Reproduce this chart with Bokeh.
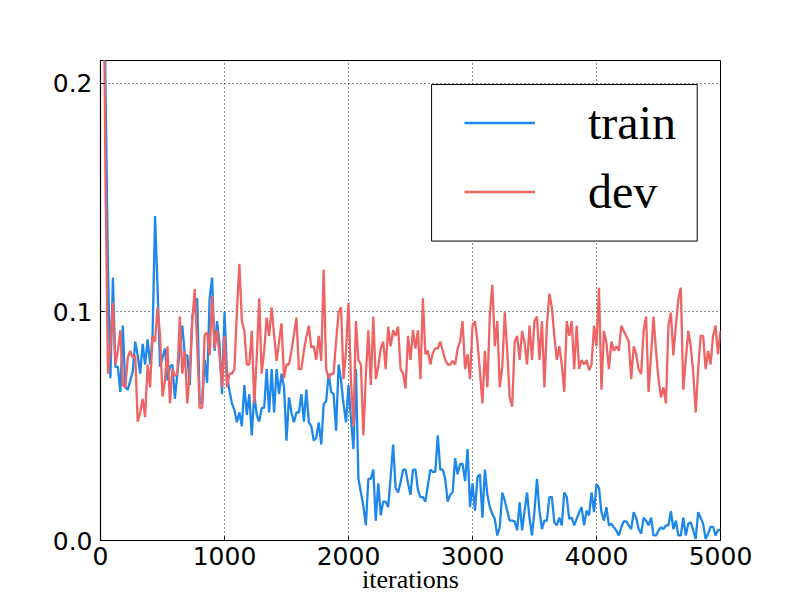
from bokeh.plotting import figure
from bokeh.models import (Legend, LegendItem, BoxAnnotation, Range1d, FixedTicker,
                          PrintfTickFormatter)
from bokeh.embed import file_html
from bokeh.resources import INLINE

# ---- data (one value every 20 iterations) ----
STEP = 20

train = [
    0.40, 0.30, 0.20, 0.12, 0.071, 0.115, 0.076, 0.076, 0.065, 0.094,
    0.067, 0.066, 0.070, 0.074, 0.087, 0.081, 0.073, 0.086, 0.077, 0.088,
    0.077, 0.090, 0.142, 0.111, 0.076, 0.080, 0.084, 0.070, 0.076, 0.077,
    0.062, 0.073, 0.084, 0.094, 0.081, 0.081, 0.068, 0.098, 0.102, 0.106,
    0.060, 0.060, 0.079, 0.069, 0.106, 0.115, 0.083, 0.096, 0.086, 0.064,
    0.100, 0.073, 0.0655, 0.060, 0.057, 0.0517, 0.056, 0.050, 0.068, 0.055,
    0.064, 0.046, 0.064, 0.055, 0.052, 0.058, 0.058, 0.075, 0.056, 0.075,
    0.056, 0.075, 0.064, 0.073, 0.067, 0.0437, 0.0626, 0.056, 0.0517, 0.056,
    0.056, 0.064, 0.052, 0.066, 0.0517, 0.050, 0.0437, 0.045, 0.0517, 0.042,
    0.0597, 0.061, 0.073, 0.065, 0.064, 0.048, 0.077, 0.070, 0.0597, 0.0517,
    0.068, 0.053, 0.040, 0.075, 0.027, 0.021, 0.015, 0.0066, 0.027, 0.027,
    0.031, 0.0087, 0.025, 0.011, 0.017, 0.017, 0.0146, 0.028, 0.042, 0.023,
    0.021, 0.0255, 0.031, 0.031, 0.025, 0.020, 0.031, 0.031, 0.022, 0.019,
    0.019, 0.017, 0.024, 0.031, 0.030, 0.030, 0.046, 0.031, 0.031, 0.027,
    0.017, 0.020, 0.021, 0.036, 0.029, 0.0335, 0.0335, 0.026, 0.040, 0.0146,
    0.025, 0.013, 0.0277, 0.029, 0.010, 0.031, 0.020, 0.0146, 0.0116, 0.0095,
    0.0022, 0.0058, 0.021, 0.0175, 0.013, 0.0087, 0.0087, 0.0084, 0.0044, 0.0167,
    0.0044, 0.013, 0.021, 0.0095, 0.0022, 0.013, 0.027, 0.013, 0.005, 0.0087,
    0.0087, 0.019, 0.019, 0.008, 0.0066, 0.010, 0.0066, 0.021, 0.019, 0.0095,
    0.010, 0.0066, 0.0095, 0.0124, 0.0146, 0.0066, 0.013, 0.011, 0.021, 0.0124,
    0.0247, 0.023, 0.0124, 0.0087, 0.0146, 0.0066, 0.0073, 0.0058, 0.0044, 0.0022,
    0.0058, 0.0084, 0.0084, 0.0066, 0.005, 0.0124, 0.010, 0.005, 0.003, 0.010,
    0.0087, 0.0066, 0.010, 0.0022, 0.0022, 0.0044, 0.0058, 0.005, 0.0066, 0.0066,
    0.0128, 0.005, 0.0087, 0.0022, 0.0022, 0.010, 0.0022, 0.0073, 0.008, 0.0044,
    0.0007, 0.0124, 0.010, 0.0073, 0.0007, 0.003, 0.006, 0.006, 0.0022, 0.0046,
    0.0046,
]

dev = [
    0.40, 0.28, 0.16, 0.073, 0.084, 0.104, 0.077, 0.083, 0.092, 0.068,
    0.067, 0.080, 0.083, 0.080, 0.081, 0.052, 0.056, 0.062, 0.054, 0.077,
    0.067, 0.0895, 0.087, 0.102, 0.090, 0.063, 0.070, 0.085, 0.060, 0.075,
    0.072, 0.073, 0.098, 0.073, 0.083, 0.060, 0.074, 0.096, 0.110, 0.085,
    0.058, 0.058, 0.090, 0.091, 0.081, 0.107, 0.084, 0.092, 0.081, 0.067,
    0.0895, 0.067, 0.073, 0.073, 0.075, 0.100, 0.121, 0.096, 0.0917, 0.077,
    0.077, 0.0917, 0.060, 0.080, 0.106, 0.073, 0.083, 0.0975, 0.0895, 0.102,
    0.090, 0.0786, 0.087, 0.095, 0.071, 0.077, 0.077, 0.083, 0.090, 0.0975,
    0.075, 0.075, 0.083, 0.089, 0.094, 0.0844, 0.085, 0.079, 0.0895, 0.0786,
    0.1186, 0.075, 0.071, 0.073, 0.073, 0.087, 0.0997, 0.102, 0.0706, 0.083,
    0.104, 0.070, 0.050, 0.096, 0.079, 0.077, 0.046, 0.072, 0.092, 0.068,
    0.098, 0.0706, 0.076, 0.084, 0.087, 0.075, 0.0936, 0.085, 0.092, 0.0895,
    0.0936, 0.075, 0.073, 0.0665, 0.0895, 0.079, 0.092, 0.084, 0.092, 0.0706,
    0.106, 0.0815, 0.083, 0.077, 0.082, 0.084, 0.084, 0.087, 0.083, 0.079,
    0.077, 0.077, 0.0786, 0.077, 0.084, 0.087, 0.096, 0.075, 0.0815, 0.0706,
    0.094, 0.096, 0.087, 0.074, 0.060, 0.083, 0.067, 0.099, 0.112, 0.085,
    0.096, 0.067, 0.0757, 0.0998, 0.083, 0.0626, 0.0585, 0.087, 0.0895, 0.079,
    0.0917, 0.0866, 0.077, 0.094, 0.079, 0.096, 0.098, 0.079, 0.096, 0.067,
    0.094, 0.108, 0.102, 0.0895, 0.079, 0.085, 0.077, 0.065, 0.096, 0.0895,
    0.096, 0.075, 0.094, 0.075, 0.079, 0.077, 0.079, 0.0745, 0.077, 0.094,
    0.085, 0.1106, 0.066, 0.0917, 0.0866, 0.075, 0.087, 0.083, 0.085, 0.083,
    0.094, 0.0917, 0.0895, 0.087, 0.0706, 0.085, 0.0815, 0.075, 0.0728, 0.0917,
    0.098, 0.065, 0.081, 0.098, 0.083, 0.0706, 0.0626, 0.067, 0.060, 0.094,
    0.0997, 0.081, 0.094, 0.1055, 0.1106, 0.066, 0.079, 0.0917, 0.085, 0.0735,
    0.056, 0.075, 0.0895, 0.0895, 0.075, 0.083, 0.077, 0.0895, 0.094, 0.0815,
    0.0917,
]

train_iters = [STEP * i for i in range(len(train))]
dev_iters = [STEP * i for i in range(len(dev))]

x_ticks = [0, 1000, 2000, 3000, 4000, 5000]
y_ticks = [0.0, 0.1, 0.2]
series_names = ["train", "dev"]
series_colors = ["#1e88ea", "#ee6464"]
x_label = "iterations"

# ---- figure ----
p = figure(frame_width=620, frame_height=480,
           min_border_left=100, min_border_right=80,
           min_border_top=60, min_border_bottom=60,
           x_range=Range1d(0, 5000), y_range=Range1d(0, 0.21),
           output_backend="svg", toolbar_location=None)
p.background_fill_color = "white"
p.border_fill_color = "white"
p.outline_line_color = "black"
p.outline_line_width = 1
p.outline_line_alpha = 1

r_train = p.line(train_iters, train, line_color=series_colors[0], line_width=2.3)
r_dev = p.line(dev_iters, dev, line_color=series_colors[1], line_width=2.3)

for ax in (p.xaxis[0], p.yaxis[0]):
    ax.axis_line_color = "black"
    ax.axis_line_width = 1.2
    ax.major_tick_in = 4
    ax.major_tick_out = 0
    ax.major_tick_line_color = "black"
    ax.minor_tick_line_color = None
    ax.major_label_text_font = "DejaVu Sans"
    ax.major_label_text_font_size = "25px"
    ax.major_label_text_color = "black"

p.xaxis.ticker = FixedTicker(ticks=x_ticks)
p.yaxis.ticker = FixedTicker(ticks=y_ticks)
p.yaxis.formatter = PrintfTickFormatter(format="%.1f")
p.xaxis.major_label_standoff = 6
p.yaxis.major_label_standoff = 8

p.xaxis.axis_label = x_label
p.xaxis.axis_label_text_font = "Liberation Serif"
p.xaxis.axis_label_text_font_style = "normal"
p.xaxis.axis_label_text_font_size = "26px"
p.xaxis.axis_label_text_color = "black"
p.xaxis.axis_label_standoff = -3

p.xgrid.ticker = FixedTicker(ticks=x_ticks)
p.ygrid.ticker = FixedTicker(ticks=y_ticks)
for g in (p.xgrid[0], p.ygrid[0]):
    g.grid_line_color = "black"
    g.grid_line_dash = "1 3"
    g.grid_line_width = 1
    g.grid_line_alpha = 0.9

# legend frame
box = BoxAnnotation(left=2670, right=4812, bottom=0.131, top=0.1995,
                    fill_color="white", fill_alpha=1,
                    line_color="black", line_width=1, line_alpha=1)
p.add_layout(box)

legend = Legend(items=[LegendItem(label=series_names[0], renderers=[r_train]),
                       LegendItem(label=series_names[1], renderers=[r_dev])],
                location=(364, 321),
                label_text_font="Liberation Serif", label_text_font_size="48px",
                label_text_color="black",
                glyph_width=71, glyph_height=55, label_height=55,
                spacing=14, padding=0, margin=0, label_standoff=53,
                border_line_alpha=0, background_fill_alpha=0)
p.add_layout(legend)

open("out.html", "w").write(file_html(p, INLINE))
